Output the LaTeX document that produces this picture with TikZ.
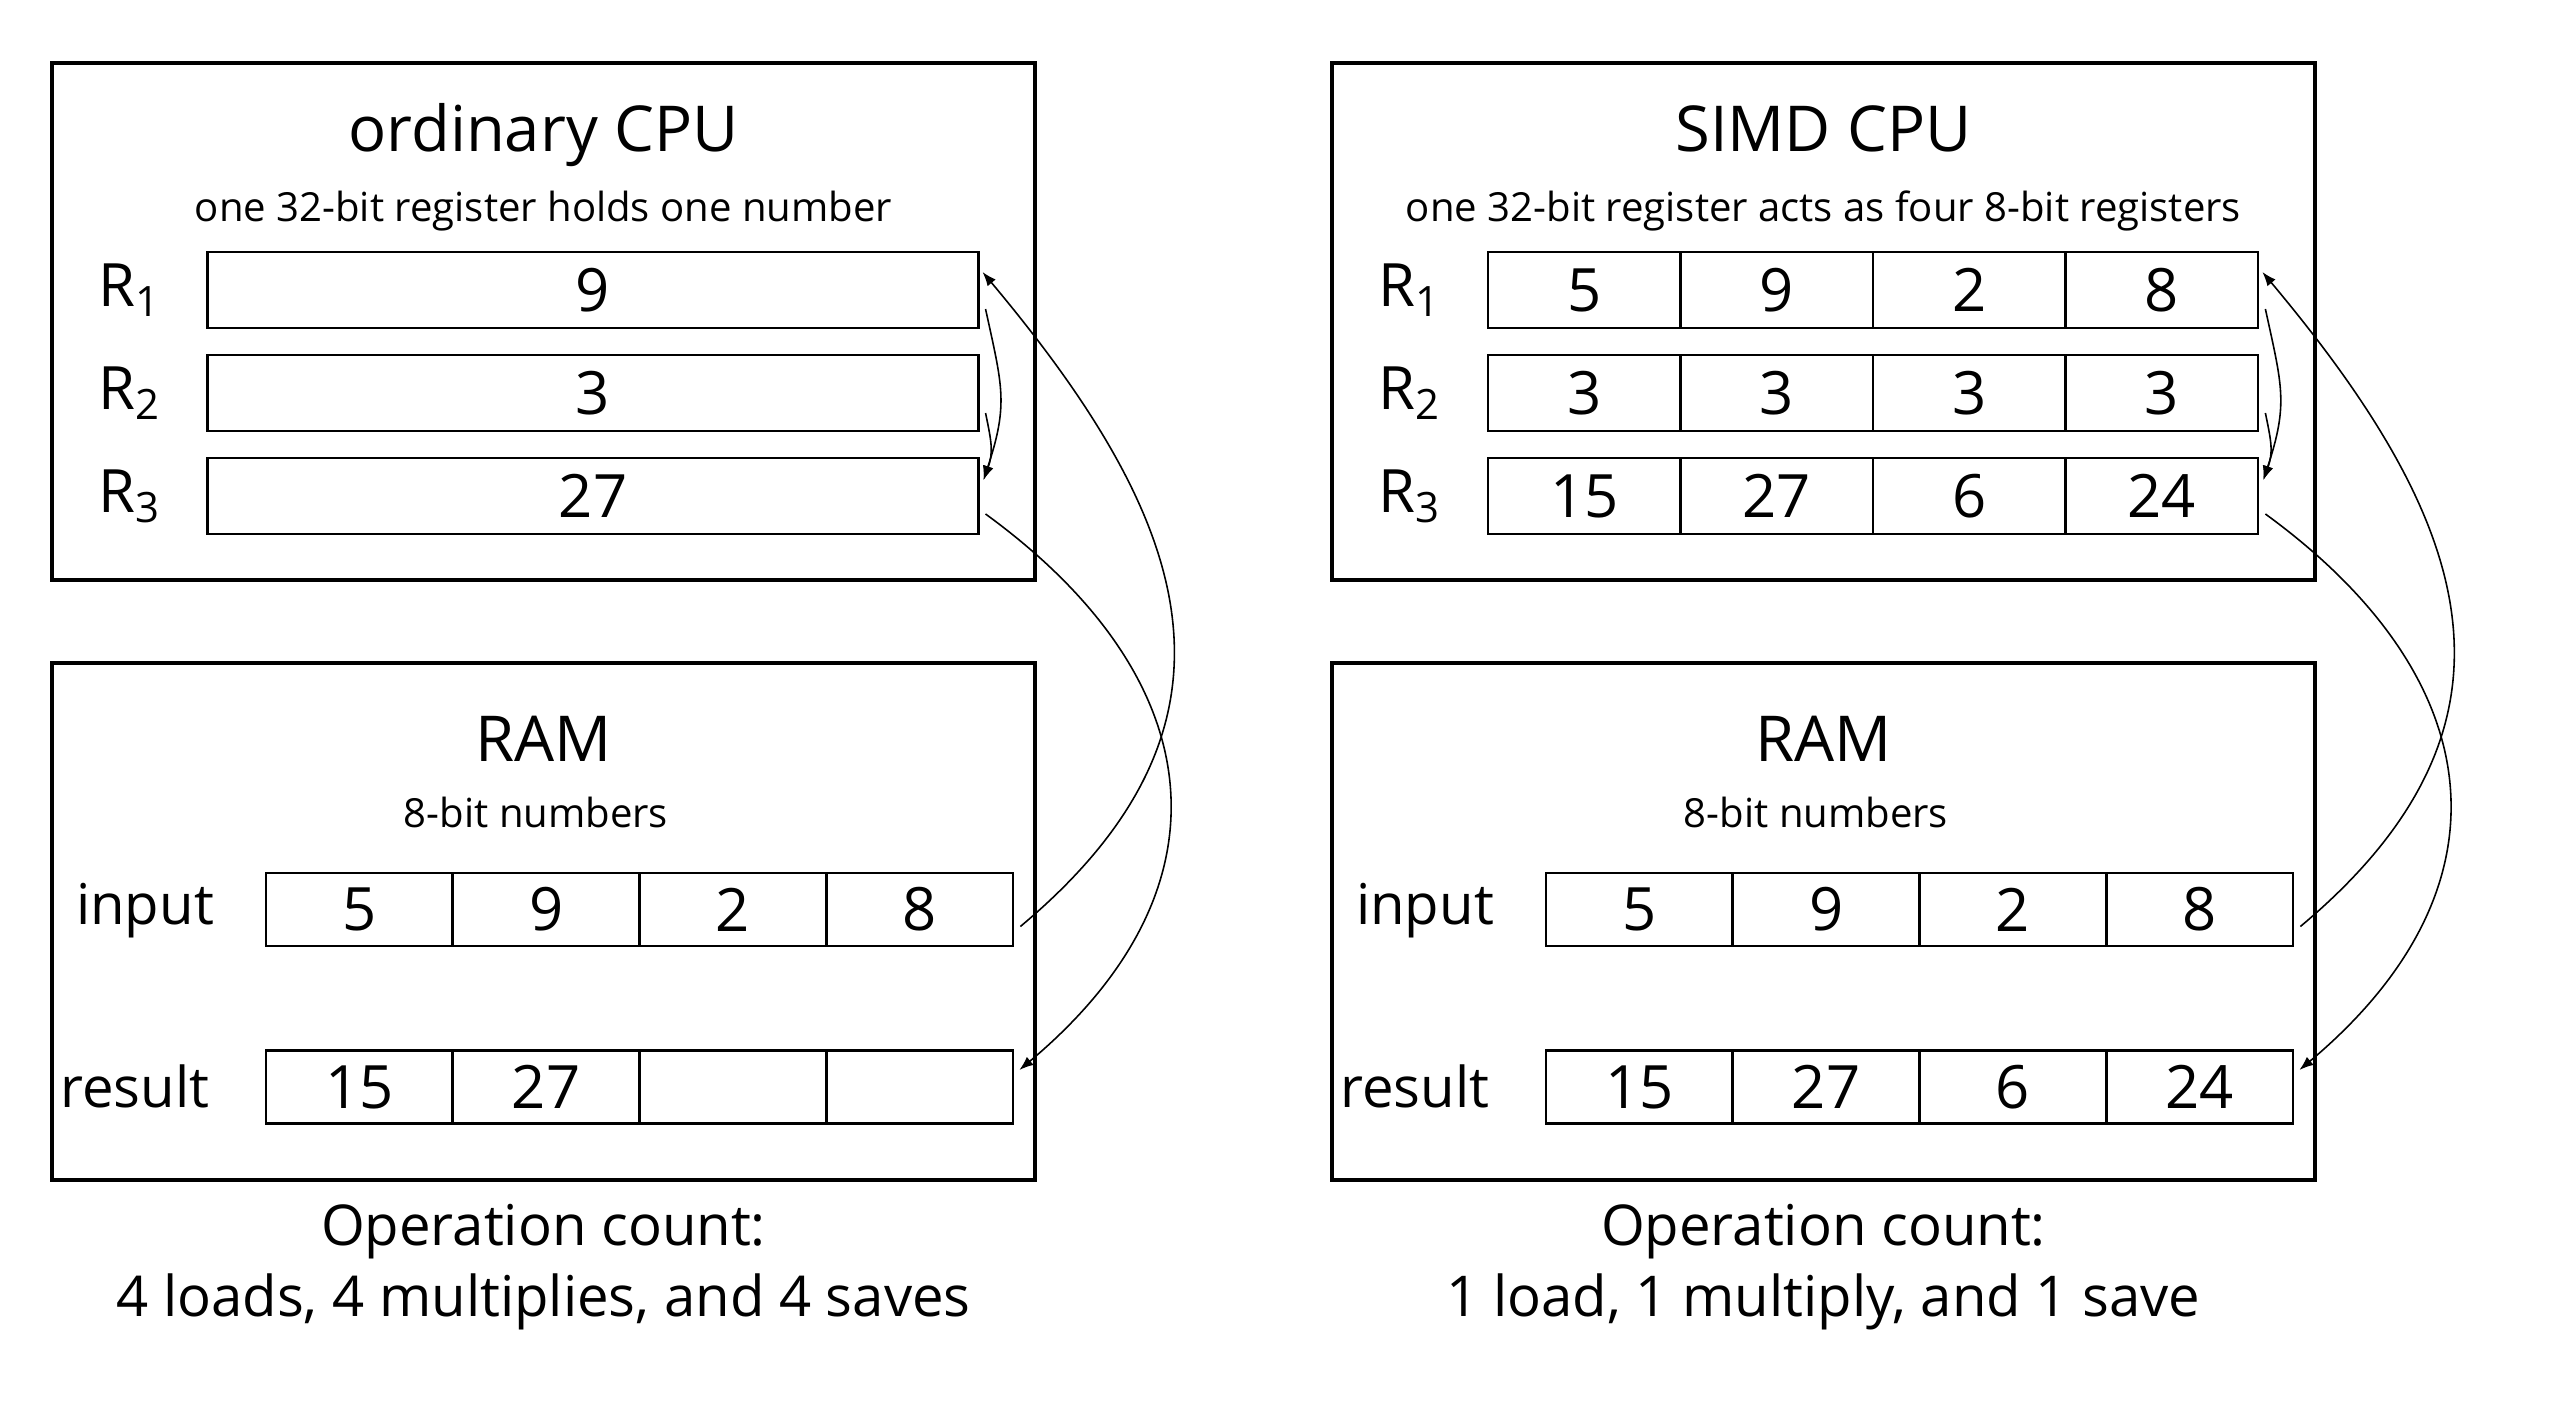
\documentclass[tikz,border=0pt]{standalone}
\usepackage{fontspec}
\setmainfont{Open Sans}
\usepackage{tikz}
\usetikzlibrary{calc,arrows.meta}

\tikzset{
  chip/.style={
    draw,
    line width=1.4pt
  },
  reg/.style={
    draw,
    line width=0.75pt,
    minimum height=0.76cm,
    inner sep=0pt,
    font=\fontsize{17}{20}\selectfont
  },
  mem/.style={
    draw,
    line width=0.75pt,
    minimum width=1.8675cm,
    minimum height=0.73cm,
    inner sep=0pt,
    font=\fontsize{17}{20}\selectfont
  },
  head/.style={
    anchor=base,
    font=\fontsize{18}{22}\selectfont
  },
  note/.style={
    anchor=base,
    font=\fontsize{11.4}{14}\selectfont
  },
  lbl/.style={
    anchor=base,
    font=\fontsize{16}{20}\selectfont
  },
  rname/.style={
    anchor=base west,
    inner sep=0pt,
    font=\fontsize{17}{20}\selectfont
  },
  flow/.style={
    line width=0.45pt,
    -{Latex[length=4pt,width=3pt]}
  }
}

\begin{document}
\begin{tikzpicture}[x=0.01cm,y=-0.01cm]
    \useasboundingbox (0,0) rectangle (2560,1401);
    \def\dy{103}
    % both halves share frames, headings and the input row
    \foreach \s/\o/\t/\n in {L/0/ordinary CPU/one 32-bit register holds one number,
                             R/1280/SIMD CPU/one 32-bit register acts as four 8-bit registers}{
        \draw[chip] (52+\o,63) rectangle (1035+\o,580);
        \draw[chip] (52+\o,663) rectangle (1035+\o,1180);
        \node[head] (cpu\s) at (543.5+\o,152) {\t};
        \node[note] (sub\s) at (543.5+\o,222) {\n};
        \foreach \k in {1,2,3}{
            \node[rname] (name\s\k) at (98+\o,{307+\dy*(\k-1)}) {R\textsubscript{\k}};
        }
        \node[head] (ram\s) at (543.5+\o,762) {RAM};
        \node[note] (bits\s) at (536+\o,828) {8-bit numbers};
        \node[lbl] (inlab\s) at (145+\o,925) {input};
        \node[lbl] (reslab\s) at (135+\o,1108) {result};
        \foreach \v [count=\i] in {5,9,2,8}{
            \node[mem] (in\s\i) at ({359.375+186.75*(\i-1)+\o},909.5) {\v};
        }
    }
    % ordinary CPU
    \foreach \v [count=\k] in {9,3,27}{
        \node[reg, minimum width=7.7cm] (rL\k) at (593,{290+\dy*(\k-1)}) {\v};
    }
    \foreach \v [count=\i] in {15,27,{},{}}{
        \node[mem] (resL\i) at ({359.375+186.75*(\i-1)},1087) {\v};
    }
    \node[lbl] (opsL) at (543.5,1245) {Operation count:};
    \node[lbl] (sumL) at (543.5,1316) {4 loads, 4 multiplies, and 4 saves};
    % SIMD CPU
    \foreach \row [count=\k] in {{5,9,2,8},{3,3,3,3},{15,27,6,24}}{
        \foreach \v [count=\i] in \row{
            \node[reg, minimum width=1.925cm] (rR\k\i) at ({1584.25+192.5*(\i-1)},{290+\dy*(\k-1)}) {\v};
        }
    }
    \foreach \v [count=\i] in {15,27,6,24}{
        \node[mem] (resR\i) at ({1639.375+186.75*(\i-1)},1087) {\v};
    }
    \node[lbl] (opsR) at (1823.5,1245) {Operation count:};
    \node[lbl] (sumR) at (1823.5,1316) {1 load, 1 multiply, and 1 save};
    % load, multiply, save
    \foreach \s/\e in {L/,R/4}{
        \draw[flow] ($(in\s4.east)+(6,17)$) .. controls +(246,-206) and +(206,246) .. ($(r\s1\e.east)+(3,-18)$);
        \draw[flow] ($(r\s1\e.east)+(6,19)$) .. controls +(17,78) and +(25,-76) .. ($(r\s3\e.east)+(4,-16)$);
        \draw[flow] ($(r\s2\e.east)+(6,20)$) .. controls +(6,29) and +(10,-28) .. ($(r\s3\e.east)+(4,-16)$);
        \draw[flow] ($(r\s3\e.east)+(6,18)$) .. controls +(228,166) and +(216,-181) .. ($(res\s4.east)+(5,-17)$);
    }
\end{tikzpicture}
\end{document}
